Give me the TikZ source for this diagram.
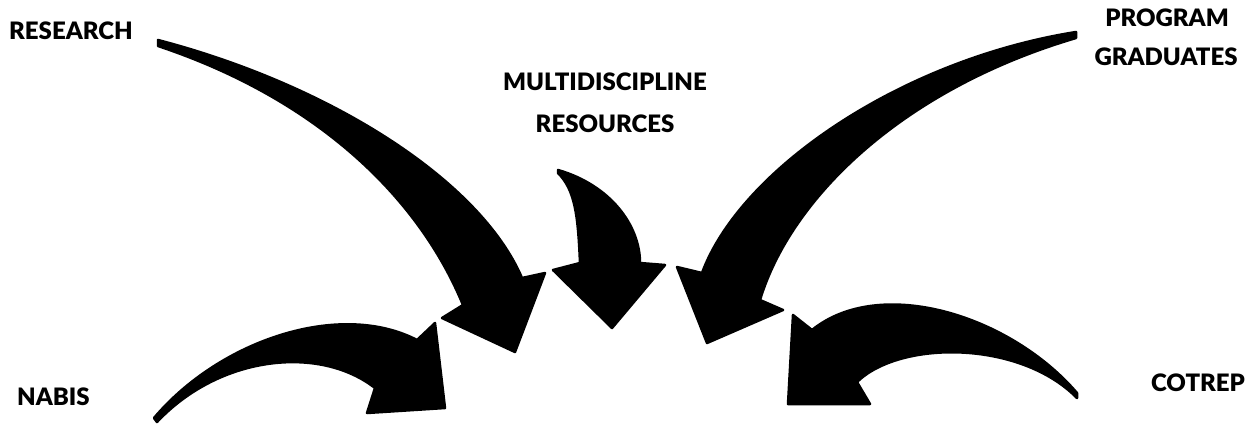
\documentclass[tikz,border=0pt]{standalone}
\usepackage{fontspec}
\setmainfont{Lato}
\newfontfamily\labfont{Lato Black}
\begin{document}
\begin{tikzpicture}[x=1pt,y=-1pt,
  arrowshape/.style={fill=black,draw=black,line width=2.5pt,line join=round,line cap=round},
  lab/.style={font=\fontsize{24}{27}\labfont,inner sep=0pt,text=black}]
\useasboundingbox (0,0) rectangle (1252,426);

% labels
\node[lab,anchor=west] (research) at (9,31) {RESEARCH};
\node[lab,anchor=west] (nabis) at (17,397) {NABIS};
\node[lab] (multi) at (605,82) {MULTIDISCIPLINE};
\node[lab] (resources) at (605,124) {RESOURCES};
\node[lab] (program) at (1167,18) {PROGRAM};
\node[lab] (graduates) at (1166,57) {GRADUATES};
\node[lab] (cotrep) at (1198,383) {COTREP};

% arrow from the upper left
\filldraw[arrowshape]
  (158,40) .. controls (330,85) and (480,180) .. (522,278)
  -- (545,273) -- (515,352) -- (442,318) -- (463,305)
  .. controls (420,200) and (320,100) .. (158,46)
  -- cycle;

% arrow from the lower left
\filldraw[arrowshape]
  (154,418) .. controls (220,340) and (340,300) .. (417,340)
  -- (435,323) -- (445,408) -- (367,413) -- (375,388)
  .. controls (320,345) and (220,355) .. (157,422)
  -- cycle;

% short arrow in the middle
\filldraw[arrowshape]
  (558,170) .. controls (610,185) and (640,225) .. (640,263)
  -- (665,265) -- (612,328) -- (553,270) -- (580,263)
  .. controls (578,215) and (575,190) .. (558,173)
  -- cycle;

% arrow from the upper right
\filldraw[arrowshape]
  (1076,32) .. controls (900,60) and (740,170) .. (702,273)
  -- (677,267) -- (707,343) -- (783,310) -- (760,300)
  .. controls (790,200) and (900,90) .. (1076,38)
  -- cycle;

% arrow from the lower right
\filldraw[arrowshape]
  (1077,393) .. controls (1010,315) and (880,275) .. (812,330)
  -- (793,315) -- (788,404) -- (870,404) -- (857,382)
  .. controls (900,340) and (1020,340) .. (1077,398)
  -- cycle;
\end{tikzpicture}
\end{document}
